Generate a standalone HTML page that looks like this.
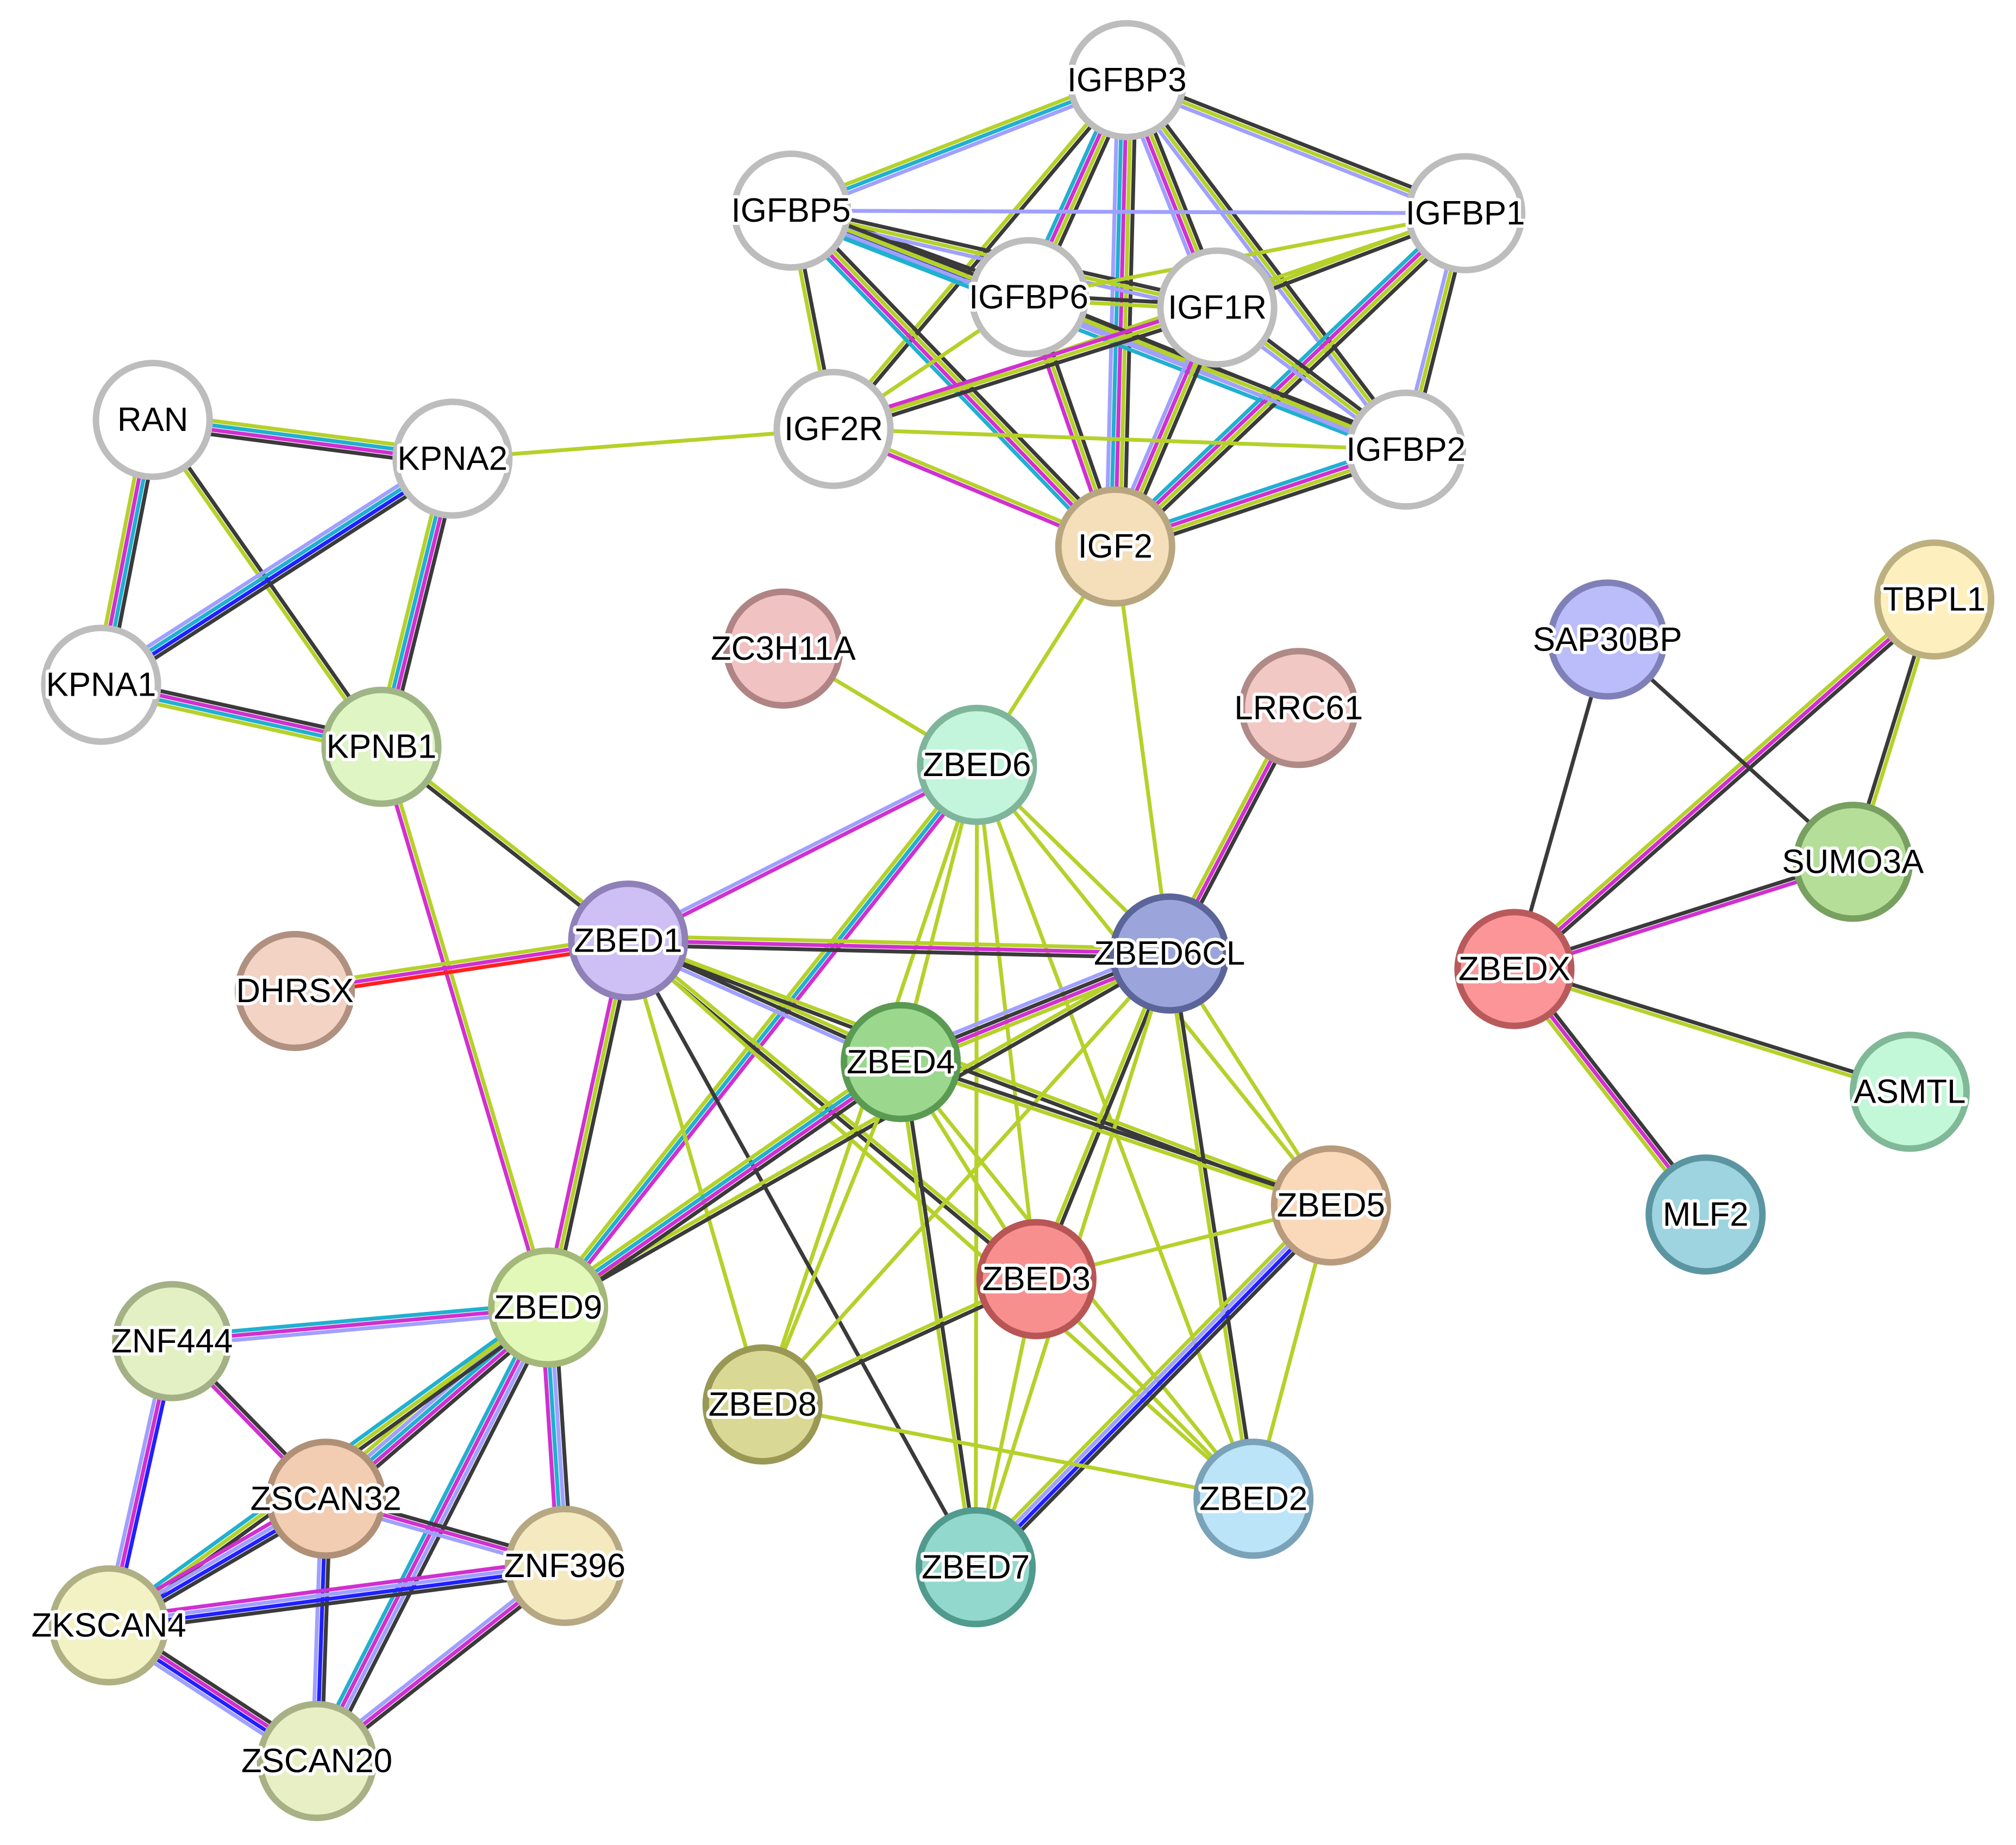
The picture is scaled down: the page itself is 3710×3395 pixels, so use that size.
<!DOCTYPE html>
<html><head><meta charset="utf-8">
<style>
html,body{margin:0;padding:0;background:#fff;}
svg{display:block;}
text{font-family:"Liberation Sans",Arial,sans-serif;font-size:26px;fill:#000;stroke:#fff;stroke-width:5px;paint-order:stroke;stroke-linejoin:round;text-anchor:middle;dominant-baseline:central;}
</style></head>
<body>
<svg id="s" width="3710" height="3395" viewBox="0 0 1560 1428" xmlns="http://www.w3.org/2000/svg">
<g id="e"></g><g id="n"></g>
</svg>
<script>
var N={
IGFBP3:[872,62],IGFBP5:[612,163],IGFBP1:[1134,165],IGFBP6:[796,230],IGF1R:[942,238],IGF2R:[645,332],IGFBP2:[1088,348],IGF2:[863,423],
RAN:[118,325],KPNA2:[350,355],KPNA1:[78,530],KPNB1:[295,578],ZC3H11A:[606,502],ZBED6:[756,592],LRRC61:[1005,548],
ZBED1:[486,728],DHRSX:[228,767],ZBED6CL:[905,738],ZBED4:[697,822],ZBED5:[1030,933],ZBED3:[802,990],ZBED9:[424,1012],
ZNF444:[133,1038],ZBED8:[590,1087],ZSCAN32:[252,1160],ZNF396:[437,1212],ZKSCAN4:[84,1258],ZSCAN20:[245,1363],
ZBED7:[755,1213],ZBED2:[970,1160],SAP30BP:[1244,495],TBPL1:[1497,464],SUMO3A:[1434,667],ZBEDX:[1172,750],ASMTL:[1478,845],MLF2:[1320,940]};
var F={IGF2:["#f5dfba","#b8a680"],KPNB1:["#dff5c4","#9fb585"],ZC3H11A:["#f1c2c2","#b08484"],ZBED6:["#c2f5db","#7fb59a"],LRRC61:["#f2c8c4","#b08a86"],
ZBED1:["#cebff5","#8f80b8"],DHRSX:["#f2d3c4","#b09080"],ZBED6CL:["#9ba4db","#5c6599"],ZBED4:["#9bd88e","#5a9a52"],ZBED5:["#fad9bb","#b89a7c"],
ZBED3:["#f88f8f","#b85555"],ZBED9:["#e2f8b8","#a4b87a"],ZNF444:["#e3f0c4","#a4b085"],ZBED8:["#d9d894","#999855"],ZSCAN32:["#f2cdb2","#b09076"],
ZNF396:["#f5e9c0","#b5a882"],ZKSCAN4:["#f2f2c4","#b0b085"],ZSCAN20:["#e8efc4","#a8b085"],ZBED7:["#92d8cc","#509a8e"],ZBED2:["#bce4f8","#7aa2b8"],
SAP30BP:["#bbbcfa","#8080b8"],TBPL1:["#fdf0be","#bdb080"],SUMO3A:["#b5de98","#78a060"],ZBEDX:["#fc9597","#b85a5c"],ASMTL:["#c2f8d8","#80b898"],MLF2:["#9dd4e0","#5c95a2"]};
var C={k:"#3a3a3a",y:"#b5d12a",m:"#d030d0",c:"#20b0d0",l:"#a0a0ff",b:"#2020ff",r:"#ff2020"};
var E=`IGFBP3 IGFBP5 lcy
IGFBP3 IGFBP1 kyl
IGFBP3 IGFBP6 kymc
IGFBP3 IGF1R kyml
IGFBP3 IGF2R ky
IGFBP3 IGFBP2 kyl
IGFBP3 IGF2 kymcl
IGFBP5 IGFBP1 l
IGFBP5 IGFBP6 kybc
IGFBP5 IGF1R kyl
IGFBP5 IGF2R ky
IGFBP5 IGFBP2 kylc
IGFBP5 IGF2 kymc
IGFBP1 IGFBP6 y
IGFBP1 IGF1R ky
IGFBP1 IGF2R y
IGFBP1 IGFBP2 kyl
IGFBP1 IGF2 kymc
IGFBP6 IGF1R ky
IGFBP6 IGF2R y
IGFBP6 IGFBP2 kyl
IGFBP6 IGF2 kym
IGF1R IGF2R kym
IGF1R IGFBP2 kyl
IGF1R IGF2 kyml
IGF2R IGFBP2 y
IGF2R IGF2 ym
IGFBP2 IGF2 kymc
IGF2R KPNA2 y
IGF2 ZBED6 y
IGF2 ZBED6CL y
RAN KPNA2 ycmk
RAN KPNA1 kcmy
RAN KPNB1 ky
KPNA2 KPNA1 kbcl
KPNA2 KPNB1 kmcy
KPNA1 KPNB1 kmcy
KPNB1 ZBED1 yk
KPNB1 ZBED9 ym
ZC3H11A ZBED6 y
LRRC61 ZBED6CL kmy
ZBED6 ZBED1 ml
ZBED6 ZBED9 mcy
ZBED6 ZBED6CL y
ZBED6 ZBED4 y
ZBED6 ZBED3 y
ZBED6 ZBED7 y
ZBED6 ZBED2 y
ZBED6 ZBED8 y
ZBED6 ZBED5 y
ZBED1 DHRSX rmy
ZBED1 ZBED6CL ymk
ZBED1 ZBED4 ykl
ZBED1 ZBED5 yk
ZBED1 ZBED3 yk
ZBED1 ZBED9 kym
ZBED1 ZBED7 k
ZBED1 ZBED8 y
ZBED1 ZBED2 y
ZBED6CL ZBED4 ymkl
ZBED6CL ZBED9 ky
ZBED6CL ZBED3 ky
ZBED6CL ZBED2 ky
ZBED6CL ZBED5 y
ZBED6CL ZBED8 y
ZBED6CL ZBED7 y
ZBED4 ZBED9 kmcy
ZBED4 ZBED5 ky
ZBED4 ZBED3 y
ZBED4 ZBED7 ky
ZBED4 ZBED8 y
ZBED4 ZBED2 y
ZBED3 ZBED8 ky
ZBED3 ZBED5 y
ZBED3 ZBED7 y
ZBED3 ZBED2 y
ZBED5 ZBED7 kbly
ZBED5 ZBED2 y
ZBED8 ZBED2 y
ZBED9 ZNF444 lmc
ZBED9 ZSCAN32 kmcly
ZBED9 ZNF396 klcm
ZBED9 ZKSCAN4 kyc
ZBED9 ZSCAN20 klmc
ZNF444 ZSCAN32 km
ZNF444 ZKSCAN4 bml
ZSCAN32 ZNF396 kml
ZSCAN32 ZKSCAN4 kblm
ZSCAN32 ZSCAN20 kbl
ZNF396 ZKSCAN4 kblm
ZNF396 ZSCAN20 kml
ZKSCAN4 ZSCAN20 kmbl
ZBEDX SAP30BP k
ZBEDX TBPL1 ymk
ZBEDX SUMO3A km
ZBEDX ASMTL ky
ZBEDX MLF2 kmy
SAP30BP SUMO3A k
TBPL1 SUMO3A yk`;
var ns="http://www.w3.org/2000/svg",eg=document.getElementById("e"),ng=document.getElementById("n");
E.split("\n").forEach(function(l){var p=l.trim().split(" ");var a=N[p[0]],b=N[p[1]],cs=p[2];
var dx=b[0]-a[0],dy=b[1]-a[1],L=Math.hypot(dx,dy),ox=-dy/L*3.5,oy=dx/L*3.5,n=cs.length;
for(var i=0;i<n;i++){var o=i-(n-1)/2;var ln=document.createElementNS(ns,"line");
ln.setAttribute("x1",a[0]+ox*o);ln.setAttribute("y1",a[1]+oy*o);ln.setAttribute("x2",b[0]+ox*o);ln.setAttribute("y2",b[1]+oy*o);
ln.setAttribute("stroke",C[cs[i]]);ln.setAttribute("stroke-width",3);eg.appendChild(ln);}});
for(var k in N){var c=document.createElementNS(ns,"circle"),f=F[k]||["#fff","#bdbdbd"];
c.setAttribute("cx",N[k][0]);c.setAttribute("cy",N[k][1]);c.setAttribute("r",44);c.setAttribute("fill",f[0]);c.setAttribute("stroke",f[1]);c.setAttribute("stroke-width",5);ng.appendChild(c);
var t=document.createElementNS(ns,"text");t.setAttribute("x",N[k][0]);t.setAttribute("y",N[k][1]);t.textContent=k;ng.appendChild(t);}
</script>
</body></html>
